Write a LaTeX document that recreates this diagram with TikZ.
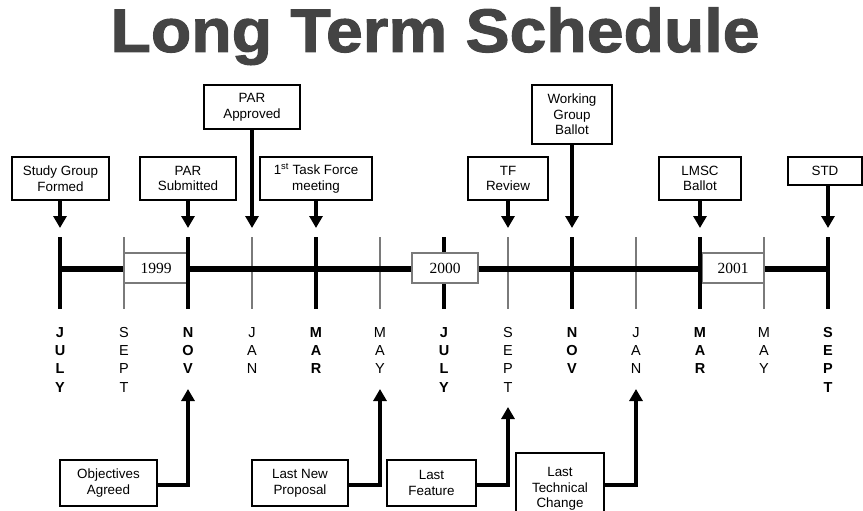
\documentclass[tikz,border=0pt]{standalone}
\usepackage{fontspec}
\setmainfont{Liberation Sans}
\newfontfamily\yearfont{Liberation Serif}
\newfontfamily\titlefont[FakeBold=1.6]{Liberation Sans Bold}
\usetikzlibrary{arrows.meta}
\definecolor{titlegray}{HTML}{444444}
\definecolor{tickgray}{HTML}{7A7A7A}
\begin{document}
\begin{tikzpicture}[x=1pt,y=-1pt,
  box/.style={draw=black,line width=1.8pt,fill=white,align=center,inner sep=0pt,
    font=\fontsize{13.4}{15.7}\selectfont},
  arr/.style={line width=3.5pt,-{Triangle[width=13pt,length=12pt]}},
  thicktick/.style={line width=3.5pt},
  thintick/.style={line width=1.4pt,draw=tickgray},
  mainline/.style={line width=6pt},
  yearbox/.style={draw=tickgray,line width=1.1pt,fill=white,inner sep=0pt,
    font=\yearfont\fontsize{15.5}{18}\selectfont},
  mon/.style={anchor=north,align=center,inner sep=0pt,font=\fontsize{14.5}{18.3}\selectfont},
  monb/.style={mon,font=\fontsize{14.5}{18.3}\selectfont\bfseries}]
\useasboundingbox (0,0) rectangle (863,511);

% title
\node[anchor=base,text=titlegray,inner sep=0pt,font=\titlefont\fontsize{61.5}{66}\selectfont]
  (title) at (435,52) {\scalebox{1.075}[1]{Long Term Schedule}};

% tick coordinates
\foreach \i in {0,...,12} {
  \coordinate (tt\i) at ({60+64*\i},237);
  \coordinate (tb\i) at ({60+64*\i},309);
}
\coordinate (L0) at (60,269);
\coordinate (L1) at (828,269);

% thin ticks
\foreach \i in {1,3,5,7,9,11} \draw[thintick] (tt\i) -- (tb\i);
% main line
\draw[mainline] (L0) -- (L1);
\draw[thicktick] (tt6) -- (tb6);
% year boxes
\node[yearbox,minimum width=64pt,minimum height=30pt] (y1999) at (156,268) {1999};
\node[yearbox,minimum width=66pt,minimum height=30pt] (y2000) at (445,268) {2000};
\node[yearbox,minimum width=62pt,minimum height=30pt] (y2001) at (733,268) {2001};
% thick ticks
\foreach \i in {0,2,4,8,10,12} \draw[thicktick] (tt\i) -- (tb\i);

% month labels
\node[monb] (mo0) at (60,327) {J\\U\\L\\Y};
\node[mon]  (mo1) at (124,327) {S\\E\\P\\T};
\node[monb] (mo2) at (188,327) {N\\O\\V};
\node[mon]  (mo3) at (252,327) {J\\A\\N};
\node[monb] (mo4) at (316,327) {M\\A\\R};
\node[mon]  (mo5) at (380,327) {M\\A\\Y};
\node[monb] (mo6) at (444,327) {J\\U\\L\\Y};
\node[mon]  (mo7) at (508,327) {S\\E\\P\\T};
\node[monb] (mo8) at (572,327) {N\\O\\V};
\node[mon]  (mo9) at (636,327) {J\\A\\N};
\node[monb] (mo10) at (700,327) {M\\A\\R};
\node[mon]  (mo11) at (764,327) {M\\A\\Y};
\node[monb] (mo12) at (828,327) {S\\E\\P\\T};

% top boxes
\node[box,minimum width=97pt,minimum height=43pt] (sg) at (60.5,178.5) {Study Group\\Formed};
\node[box,minimum width=96pt,minimum height=43pt] (ps) at (188,178.5) {PAR\\Submitted};
\node[box,minimum width=96pt,minimum height=44pt] (pa) at (252,107) {PAR\\Approved};
\node[box,minimum width=112pt,minimum height=43pt] (tf) at (316,178.5) {1\textsuperscript{st} Task Force\\meeting};
\node[box,minimum width=80pt,minimum height=43pt] (tr) at (508,178.5) {TF\\Review};
\node[box,minimum width=80pt,minimum height=59pt] (wg) at (572,114.5) {Working\\Group\\Ballot};
\node[box,minimum width=82pt,minimum height=43pt] (lm) at (700,178.5) {LMSC\\Ballot};
\node[box,minimum width=74pt,minimum height=28pt] (st) at (825,171) {STD};

% top arrows
\draw[arr] (sg.south -| tt0) -- ([yshift=9pt]tt0);
\draw[arr] (ps.south -| tt2) -- ([yshift=9pt]tt2);
\draw[arr] (pa.south -| tt3) -- ([yshift=9pt]tt3);
\draw[arr] (tf.south -| tt4) -- ([yshift=9pt]tt4);
\draw[arr] (tr.south -| tt7) -- ([yshift=9pt]tt7);
\draw[arr] (wg.south -| tt8) -- ([yshift=9pt]tt8);
\draw[arr] (lm.south -| tt10) -- ([yshift=9pt]tt10);
\draw[arr] (st.south -| tt12) -- ([yshift=9pt]tt12);

% bottom boxes
\node[box,minimum width=97pt,minimum height=46pt] (oa) at (108.5,483) {Objectives\\Agreed};
\node[box,minimum width=96pt,minimum height=46pt] (ln) at (300,483) {Last New\\Proposal};
\node[box,minimum width=89pt,minimum height=46pt] (lf) at (431.5,483) {Last\\Feature};
\node[box,minimum width=88pt,minimum height=64pt,text depth=0pt] (lt) at (560,485) {\raisebox{12pt}{\begin{tabular}{@{}c@{}}Last\\Technical\\Change\end{tabular}}};

% bottom arrow tips
\coordinate (u2) at (188,389);
\coordinate (u5) at (380,389);
\coordinate (u7) at (508,407);
\coordinate (u9) at (636,389);

\draw[arr] ([yshift=-2pt]oa.east) -| (u2);
\draw[arr] ([yshift=-2pt]ln.east) -| (u5);
\draw[arr] ([yshift=-2pt]lf.east) -| (u7);
\draw[arr] (lt.east) -| (u9);
\end{tikzpicture}
\end{document}
